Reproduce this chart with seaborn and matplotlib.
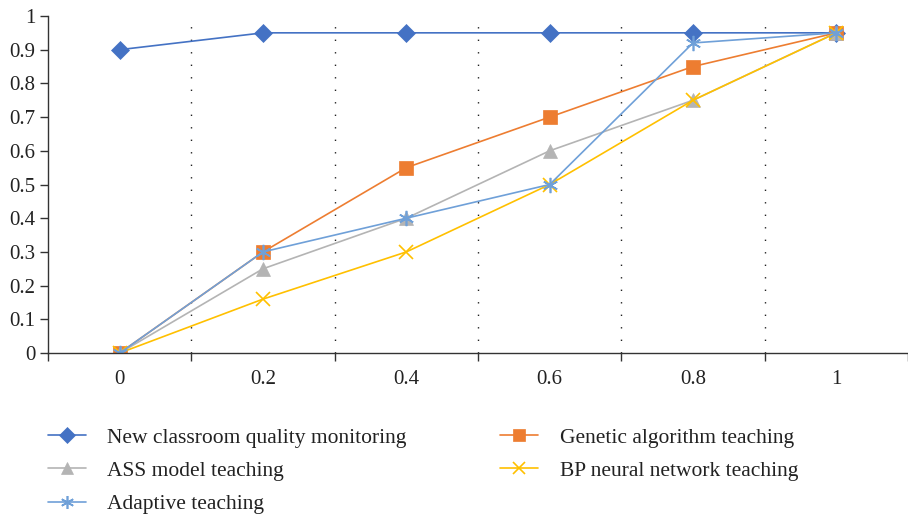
import matplotlib
matplotlib.use("Agg")
import matplotlib.pyplot as plt
import seaborn as sns
import pandas as pd

# Category labels along the x axis
x_labels = ["0", "0.2", "0.4", "0.6", "0.8", "1"]

# Series values (one value per category)
new_monitoring = [0.90, 0.95, 0.95, 0.95, 0.95, 0.95]
genetic_algorithm = [0.0, 0.30, 0.55, 0.70, 0.85, 0.95]
ass_model = [0.0, 0.25, 0.40, 0.60, 0.75, 0.95]
bp_network = [0.0, 0.16, 0.30, 0.50, 0.75, 0.95]
adaptive = [0.0, 0.30, 0.40, 0.50, 0.92, 0.95]

series_names = [
    "New classroom quality monitoring",
    "Genetic algorithm teaching",
    "ASS model teaching",
    "BP neural network teaching",
    "Adaptive teaching",
]
series_values = [new_monitoring, genetic_algorithm, ass_model, bp_network, adaptive]

y_ticks = [0, 0.1, 0.2, 0.3, 0.4, 0.5, 0.6, 0.7, 0.8, 0.9, 1]
y_tick_labels = ["0", "0.1", "0.2", "0.3", "0.4", "0.5", "0.6", "0.7", "0.8", "0.9", "1"]

rows = []
for name, vals in zip(series_names, series_values):
    for i, v in enumerate(vals):
        rows.append({"pos": i, "value": v, "series": name})
df = pd.DataFrame(rows)

palette = {
    series_names[0]: "#4472C4",
    series_names[1]: "#ED7D31",
    series_names[2]: "#B4B4B4",
    series_names[3]: "#FFC000",
    series_names[4]: "#6FA0D8",
}
markers = {
    series_names[0]: "D",
    series_names[1]: "s",
    series_names[2]: "^",
    series_names[3]: "x",
    series_names[4]: (6, 2, 0),
}
sizes = {
    series_names[0]: 9,
    series_names[1]: 10,
    series_names[2]: 10,
    series_names[3]: 10,
    series_names[4]: 11,
}

sns.set_theme(style="white")
plt.rcParams["font.family"] = ["Liberation Serif", "DejaVu Serif"]

fig = plt.figure(figsize=(9.08, 5.14), dpi=100)
ax = fig.add_axes([0.0529, 0.3132, 0.9471, 0.6557])

for name in series_names:
    sub = df[df["series"] == name]
    sns.lineplot(
        data=sub, x="pos", y="value", ax=ax, color=palette[name],
        marker=markers[name], markersize=sizes[name], linewidth=1.2,
        markeredgewidth=1.2 if name in (series_names[3], series_names[4]) else 0.5,
        markeredgecolor=palette[name], label=name, legend=False,
    )

# Dotted separators between categories
for b in [0.5, 1.5, 2.5, 3.5, 4.5]:
    ax.axvline(b, ymin=0, ymax=1, color="#222222", linewidth=1.0,
               linestyle=(0, (1, 8)), zorder=0)

ax.set_xlim(-0.5, 5.464)
ax.set_ylim(0, 1)
ax.set_xticks(range(len(x_labels)))
ax.set_xticklabels(x_labels)
ax.set_xticks([-0.5, 0.5, 1.5, 2.5, 3.5, 4.5, 5.5], minor=True)
ax.tick_params(axis="x", which="major", bottom=False, length=0, pad=12,
               labelsize=15, labelcolor="#222222")
ax.tick_params(axis="x", which="minor", bottom=True, length=6, width=1,
               color="#333333", direction="out")
ax.set_yticks(y_ticks)
ax.set_yticklabels(y_tick_labels)
ax.tick_params(axis="y", left=True, length=6, width=1, color="#333333",
               direction="out", labelsize=15, labelcolor="#222222", pad=3)
ax.set_xlabel("")
ax.set_ylabel("")
sns.despine(ax=ax, top=True, right=True)
for s in ("left", "bottom"):
    ax.spines[s].set_color("#333333")
    ax.spines[s].set_linewidth(1.0)

handles, labels = ax.get_legend_handles_labels()
order = [0, 2, 4, 1, 3]
leg = fig.legend(
    [handles[i] for i in order], [labels[i] for i in order],
    loc="upper left", bbox_to_anchor=(0.053, 0.168), ncol=2,
    frameon=False, fontsize=15.5, handlelength=1.75, handletextpad=1.0,
    columnspacing=4.35, labelspacing=0.61, borderaxespad=0, borderpad=0,
    markerscale=0.85,
)
for t in leg.get_texts():
    t.set_color("#222222")

fig.savefig("out.png", dpi=100)
